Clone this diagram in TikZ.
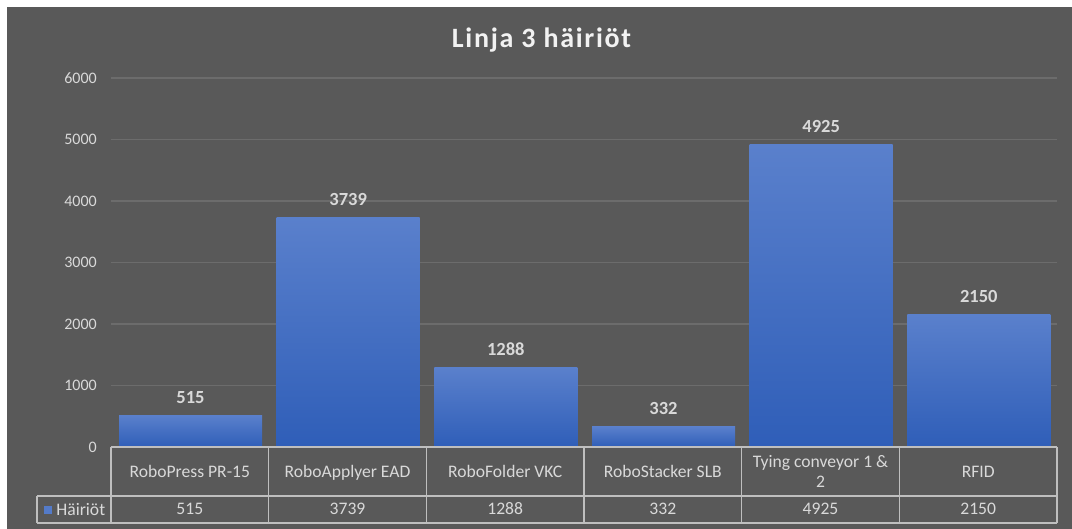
\documentclass[tikz,border=0pt]{standalone}
\usepackage{fontspec}
\setmainfont{Carlito}
\usepackage{tikz}
\usetikzlibrary{positioning,calc}
\definecolor{chartbg}{HTML}{595959}
\definecolor{gridgray}{HTML}{6C6C6C}
\definecolor{labelgray}{HTML}{D9D9D9}
\definecolor{tablegray}{HTML}{BFBFBF}
\definecolor{bartop}{HTML}{5A80CC}
\definecolor{barbottom}{HTML}{2F5EB8}
\tikzset{
  gridline/.style={draw=gridgray, line width=1.2pt},
  tablerule/.style={draw=tablegray, line width=1.2pt},
  bar/.style={top color=bartop, bottom color=barbottom, draw=none},
  ticklbl/.style={anchor=east, text=labelgray, font=\fontsize{16}{19}\selectfont, inner sep=0pt},
  vallbl/.style={anchor=base, text=labelgray, font=\bfseries\fontsize{18.5}{22}\selectfont, inner sep=0pt},
  cell/.style={anchor=base, text=labelgray, font=\fontsize{17.6}{20}\selectfont, inner sep=0pt, align=center},
}

\begin{document}
\begin{tikzpicture}[x=1pt, y=-1pt]
\useasboundingbox (0,0) rectangle (1072,529);
\fill[white] (0,0) rectangle (1072,529);
\fill[chartbg] (7,7) rectangle (1072,529);
% title
\node[anchor=base, text=white!95!black, font=\bfseries\fontsize{28}{33}\selectfont\addfontfeatures{LetterSpace=6}, inner sep=0pt] (title) at (541.5,47.3) {Linja 3 häiriöt};
% grid and y axis
\draw[gridline] (111,78) -- (1057,78);
\draw[gridline] (111,139.5) -- (1057,139.5);
\draw[gridline] (111,201) -- (1057,201);
\draw[gridline] (111,262.5) -- (1057,262.5);
\draw[gridline] (111,324) -- (1057,324);
\draw[gridline] (111,385.5) -- (1057,385.5);
\node[ticklbl] (t6) at (97,78) {6000};
\node[ticklbl] (t5) at (97,139.5) {5000};
\node[ticklbl] (t4) at (97,201) {4000};
\node[ticklbl] (t3) at (97,262.5) {3000};
\node[ticklbl] (t2) at (97,324) {2000};
\node[ticklbl] (t1) at (97,385.5) {1000};
\node[ticklbl] (t0) at (97,447) {0};
% bars
\shade[bar] (119,447) rectangle (262,415.3);
\shade[bar] (276.7,447) rectangle (419.7,217.1);
\shade[bar] (434.3,447) rectangle (577.3,367.8);
\shade[bar] (592,447) rectangle (735,426.6);
\shade[bar] (749.7,447) rectangle (892.7,144.1);
\shade[bar] (907.3,447) rectangle (1050.3,314.8);
\node[vallbl] (v1) at (190.5,403.3) {515};
\node[vallbl] (v2) at (348.2,205.1) {3739};
\node[vallbl] (v3) at (505.8,355.8) {1288};
\node[vallbl] (v4) at (663.5,414.6) {332};
\node[vallbl] (v5) at (821.2,132.1) {4925};
\node[vallbl] (v6) at (978.8,302.8) {2150};
% data table
\draw[tablerule] (111,447) -- (1057,447);
\draw[tablerule] (37,496) -- (1057,496);
\draw[tablerule] (37,523) -- (1057,523);
\draw[tablerule] (37,496) -- (37,523);
\draw[tablerule] (111,447) -- (111,523);
\draw[tablerule] (268.7,447) -- (268.7,523);
\draw[tablerule] (426.3,447) -- (426.3,523);
\draw[tablerule] (584,447) -- (584,523);
\draw[tablerule] (741.7,447) -- (741.7,523);
\draw[tablerule] (899.3,447) -- (899.3,523);
\draw[tablerule] (1057,447) -- (1057,523);
\node[cell] (c1) at (189.8,477.8) {RoboPress PR-15};
\node[cell] (c2) at (347.5,477.8) {RoboApplyer EAD};
\node[cell] (c3) at (505.2,477.8) {RoboFolder VKC};
\node[cell] (c4) at (662.8,477.8) {RoboStacker SLB};
\node[cell, anchor=center] (c5) at (820.5,471.5) {Tying conveyor 1 \&\\2};
\node[cell] (c6) at (978.2,477.8) {RFID};
\node[cell] (d1) at (189.8,514.6) {515};
\node[cell] (d2) at (347.5,514.6) {3739};
\node[cell] (d3) at (505.2,514.6) {1288};
\node[cell] (d4) at (662.8,514.6) {332};
\node[cell] (d5) at (820.5,514.6) {4925};
\node[cell] (d6) at (978.2,514.6) {2150};
\node[fill=bartop!85!barbottom, minimum size=8pt, inner sep=0pt] (key) at (48,509.7) {};
\node[cell, anchor=west, right=4pt of key] (legend) {Häiriöt};
\end{tikzpicture}
\end{document}
